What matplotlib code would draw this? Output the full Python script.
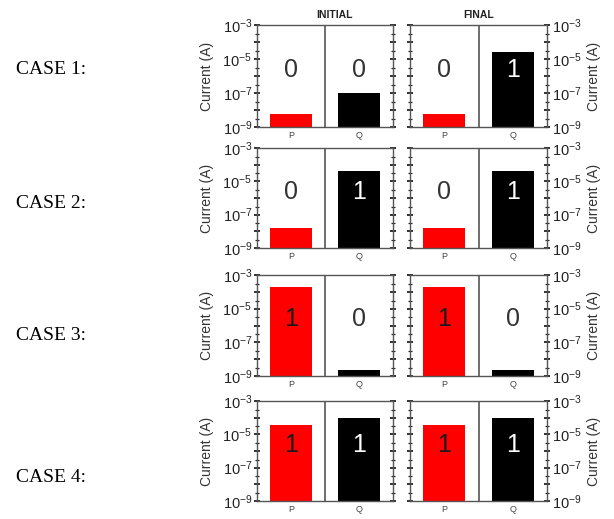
import numpy as np
import matplotlib
matplotlib.use('Agg')
import matplotlib.pyplot as plt
import matplotlib.ticker as ticker
import matplotlib.transforms as mtransforms

# currents (A) for P and Q in each case, before and after
cases = ['CASE 1:', 'CASE 2:', 'CASE 3:', 'CASE 4:']
initial_p = [6e-9, 1.6e-8, 2e-4, 3.6e-5]
initial_q = [1e-7, 4e-5, 2.3e-9, 1e-4]
final_p = [6e-9, 1.6e-8, 2e-4, 3.6e-5]
final_q = [2.6e-5, 4e-5, 2.3e-9, 1e-4]

# logic state written on each bar
initial_p_state = [0, 0, 1, 1]
initial_q_state = [0, 1, 0, 1]
final_p_state = [0, 0, 1, 1]
final_q_state = [1, 1, 0, 1]

bar_labels = ['P', 'Q']
bar_colors = ['#ff0000', '#000000']

plt.rcParams['font.family'] = 'Liberation Sans'
plt.rcParams['mathtext.fontset'] = 'custom'
plt.rcParams['mathtext.rm'] = 'Liberation Sans'
plt.rcParams['mathtext.it'] = 'Liberation Sans'

W, H = 614, 519
fig = plt.figure(figsize=(W / 100, H / 100), dpi=100)

# panel rows (top, bottom) and columns (left, right) in pixels
rows = [(25, 127), (148, 248), (275, 376), (401, 501)]
cols = [(257, 393), (410, 547)]
case_y = [69, 203, 335, 477]

def decade_label(v, pos):
    e = int(round(np.log10(v)))
    if e % 2 == 0:
        return ''
    return r'$10^{%d}$' % e

def text_color(state, bar_color):
    if state == 0:
        return '#333333'
    return 'white' if bar_color == '#000000' else '#1a1a1a'

spine_col = '#555555'

for r, (top, bot) in enumerate(rows):
    for c, (left, right) in enumerate(cols):
        ax = fig.add_axes([left / W, 1 - bot / H, (right - left) / W, (bot - top) / H])
        if c == 0:
            vals = [initial_p[r], initial_q[r]]
            states = [initial_p_state[r], initial_q_state[r]]
        else:
            vals = [final_p[r], final_q[r]]
            states = [final_p_state[r], final_q_state[r]]

        ax.set_yscale('log')
        ax.bar([0.5, 1.5], vals, width=0.61, bottom=1e-12, color=bar_colors)
        ax.set_ylim(1e-9, 1e-3)
        ax.set_xlim(0, 2)
        ax.axvline(1, color=spine_col, lw=1.2)

        for x, s, col in zip([0.5, 1.5], states, bar_colors):
            ax.text(x, 0.56, str(s), transform=mtransforms.blended_transform_factory(ax.transData, ax.transAxes),
                    ha='center', va='center', fontsize=18, color=text_color(s, col))

        for sp in ax.spines.values():
            sp.set_color(spine_col)
            sp.set_linewidth(1.0)

        ax.yaxis.set_major_locator(ticker.LogLocator(base=10, numticks=10))
        ax.yaxis.set_minor_locator(ticker.LogLocator(base=10, subs=[3.0], numticks=10))
        ax.yaxis.set_major_formatter(ticker.FuncFormatter(decade_label))
        ax.yaxis.set_minor_formatter(ticker.NullFormatter())
        ax.tick_params(axis='y', which='major', direction='inout', length=5, width=1.3,
                       left=True, right=True, labelsize=10.5, pad=1, colors='#222222')
        ax.tick_params(axis='y', which='minor', direction='inout', length=3, width=0.9,
                       left=True, right=True, colors='#222222')
        ax.set_xticks([0.5, 1.5])
        ax.set_xticklabels(bar_labels)
        ax.tick_params(axis='x', length=0, labelsize=6.5, pad=3, colors='#444444')

        if c == 0:
            ax.tick_params(axis='y', labelleft=True, labelright=False)
            ax.set_ylabel('Current (A)', fontsize=10, labelpad=6, color='#333333')
        else:
            ax.tick_params(axis='y', labelleft=False, labelright=True)
            ax.yaxis.set_label_position('right')
            ax.set_ylabel('Current (A)', fontsize=10, labelpad=4, color='#333333')

        if r == 0:
            ax.set_title('INITIAL' if c == 0 else 'FINAL', fontsize=7.5, fontweight='bold',
                         pad=5, color='#222222', x=0.57 if c == 0 else 0.5)

for name, y in zip(cases, case_y):
    fig.text(16 / W, 1 - y / H, name, fontsize=14, family='Liberation Serif',
             ha='left', va='center')

fig.savefig('out.png', dpi=100)
